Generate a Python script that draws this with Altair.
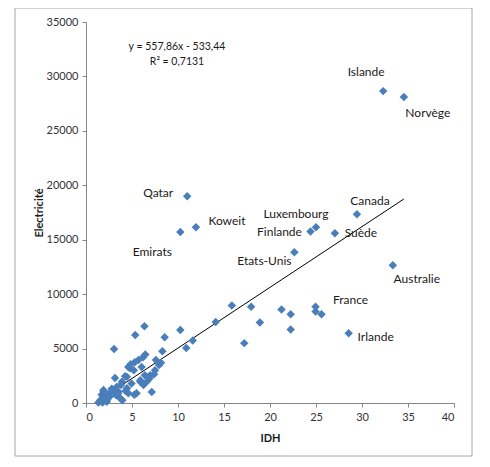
import altair as alt
import pandas as pd

# ---- data ----
idh = [32.3, 34.55, 11.0, 11.95, 10.25, 25.0, 24.4, 27.05, 29.45, 22.65, 33.35, 24.95, 28.55,
       24.95, 25.6, 15.85, 17.95, 21.25, 22.25, 18.9, 22.25, 17.2, 14.1, 11.6, 10.25, 8.55,
       6.35, 5.35, 10.9, 3.05,
       8.3, 6.45, 6.2, 5.7, 5.3, 4.85, 4.6, 7.6, 7.95, 8.15, 7.5, 7.4, 6.97, 6.9, 6.6, 5.9,
       6.25, 7.15, 5.25, 5.5, 5.2, 4.8, 6.05, 6.4, 5.9, 4.95, 4.45, 4.25, 3.15, 3.9, 3.8,
       3.35, 4.45, 4.3, 3.5, 3.5, 4.6, 3.7, 3.95, 1.9, 1.7, 1.9, 2.1, 1.55, 1.35, 2.25, 2.6,
       3.0, 2.45, 2.0, 1.8, 2.3, 2.8, 3.3]
elec = [28650, 28100, 19000, 16150, 15700, 16150, 15750, 15600, 17350, 13850, 12650, 8850, 6400,
        8400, 8150, 8950, 8850, 8600, 8150, 7400, 6750, 5500, 7450, 5750, 6700, 6050,
        7050, 6250, 5050, 4950,
        4750, 4450, 4200, 3950, 3750, 3550, 3300, 3950, 3500, 3700, 3000, 2650, 2550, 2250, 1950, 1950,
        1650, 1000, 750, 900, 3000, 3200, 3300, 2550, 2100, 1800, 2400, 2450, 2300, 1950, 1650,
        1500, 1350, 1100, 1050, 900, 900, 450, 250, 1200, 750, 1050, 450, 250, 50, 120, 600,
        1050, 850, 400, 50, 300, 1300, 700]

label_names = ["Islande", "Norvège", "Qatar", "Koweit", "Emirats", "Luxembourg", "Finlande",
               "Suède", "Canada", "Etats-Unis", "Australie", "France", "Irlande"]
label_dx = [-17, 24, -29, 31, -28, -20, -31, 26, 13, -30, 24, 35, 27]
label_dy = [-19, 16, -3, -6, 20, -13, 0, 0, -13, 9, 14, -7, 4]

slope = 557.86
intercept = -533.44
equation_text = "y = 557,86x - 533,44"
r2_text = "R² = 0,7131"

x_ticks = [0, 5, 10, 15, 20, 25, 30, 35, 40]
y_ticks = [0, 5000, 10000, 15000, 20000, 25000, 30000, 35000]

FONT = "Lato"
BLUE = "#4A7EBB"
GRAY = "#868686"

df = pd.DataFrame({"IDH": idh, "Electricité": elec})
xmin, xmax = min(idh), max(idh)
trend = pd.DataFrame({"IDH": [xmin, xmax],
                      "Electricité": [slope * xmin + intercept, slope * xmax + intercept]})

xs = alt.Scale(domain=[0, 40], nice=False, zero=True)
ys = alt.Scale(domain=[0, 35000], nice=False)
xaxis = alt.Axis(values=x_ticks, grid=False, title="IDH", format="d")
yaxis = alt.Axis(values=y_ticks, grid=False, title="Electricité", format="d")
X = alt.X("IDH:Q", scale=xs, axis=xaxis)
Y = alt.Y("Electricité:Q", scale=ys, axis=yaxis)

points = alt.Chart(df).mark_point(shape="diamond", filled=True, size=72, color=BLUE, opacity=1).encode(
    x=X, y=Y)

line = alt.Chart(trend).mark_line(color="#000000", strokeWidth=1).encode(x=X, y=Y)

layers = [line, points]
for i, name in enumerate(label_names):
    ldf = pd.DataFrame({"IDH": [idh[i]], "Electricité": [elec[i]], "t": [name]})
    layers.append(
        alt.Chart(ldf).mark_text(font=FONT, fontSize=12, color="#1a1a1a", align="center",
                                 baseline="middle", dx=label_dx[i], dy=label_dy[i]).encode(
            x=X, y=Y, text="t:N")
    )

for txt, ypix in [(equation_text, 25), (r2_text, 40)]:
    layers.append(
        alt.Chart(pd.DataFrame({"t": [txt]})).mark_text(
            font=FONT, fontSize=10.5, color="#1a1a1a", align="center", baseline="middle"
        ).encode(x=alt.value(91), y=alt.value(ypix), text="t:N")
    )

frame = alt.Chart(pd.DataFrame({"a": [0]})).mark_rect(
    fill=None, stroke="#A6A6A6", strokeWidth=1
).encode(x=alt.value(-71), x2=alt.value(386), y=alt.value(-14), y2=alt.value(434))
layers.append(frame)

chart = alt.layer(*layers).properties(
    width=368, height=381,
    autosize=alt.AutoSizeParams(type="none"),
    padding={"left": 78, "top": 14, "right": 22, "bottom": 55},
).configure_view(stroke=None).configure_axis(
    domainColor=GRAY, tickColor=GRAY, tickSize=4, labelFont=FONT, labelFontSize=11,
    labelColor="#333333", titleFont=FONT, titleFontSize=11, titleFontWeight="bold",
    titleColor="#1a1a1a",
).configure_axisX(labelPadding=4, titlePadding=10).configure_axisY(labelPadding=4, titlePadding=2)

chart.save("out.html", embed_options={"renderer": "svg", "actions": False})
